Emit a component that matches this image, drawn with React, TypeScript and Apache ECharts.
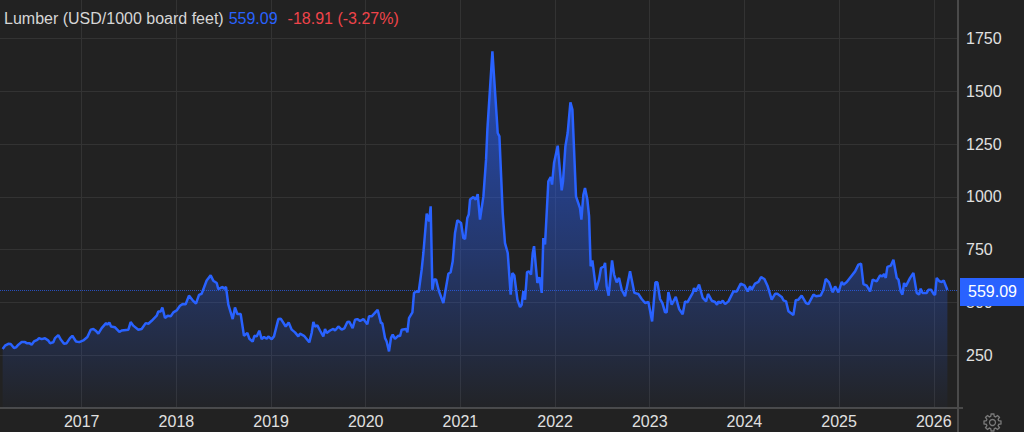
import React, { useEffect, useRef } from "react";
import * as echarts from "echarts";

const dateYears: number[] = [
2016.165,2016.19,2016.225,2016.25,2016.285,2016.306,2016.331,2016.366,2016.401,2016.419,2016.447,2016.471,2016.496,2016.531,2016.549,2016.577,2016.612,2016.648,2016.665,2016.7,2016.718,2016.753,2016.781,2016.813,2016.841,2016.876,2016.901,2016.94,2016.975,
2017.017,2017.06,2017.095,2017.123,2017.148,2017.176,2017.211,2017.257,2017.271,2017.292,2017.31,2017.352,2017.398,2017.422,2017.493,2017.517,2017.545,2017.598,2017.633,2017.676,2017.704,2017.739,2017.792,2017.809,2017.834,2017.852,2017.88,2017.908,2017.94,2017.968,
2018.003,2018.038,2018.066,2018.098,2018.133,2018.172,2018.207,2018.239,2018.267,2018.32,2018.362,2018.39,2018.426,2018.443,2018.489,2018.503,2018.524,2018.549,2018.595,2018.619,2018.644,2018.679,2018.714,2018.75,2018.771,2018.806,2018.824,2018.848,2018.876,2018.901,2018.926,2018.954,2018.971,
2019.007,2019.031,2019.077,2019.102,2019.155,2019.186,2019.218,2019.253,2019.288,2019.306,2019.348,2019.404,2019.429,2019.447,2019.464,2019.489,2019.517,2019.552,2019.57,2019.588,2019.623,2019.658,2019.676,2019.711,2019.746,2019.774,2019.806,2019.827,2019.862,2019.887,2019.911,2019.94,2019.975,
2020.017,2020.035,2020.063,2020.126,2020.161,2020.175,2020.204,2020.221,2020.246,2020.267,2020.285,2020.309,2020.345,2020.362,2020.38,2020.426,2020.44,2020.457,2020.493,2020.51,2020.545,2020.559,2020.591,2020.609,2020.644,2020.669,2020.686,2020.704,2020.721,2020.743,2020.774,2020.82,2020.873,2020.897,2020.919,2020.943,2020.968,
2021.007,2021.031,2021.049,2021.073,2021.088,2021.102,2021.137,2021.162,2021.183,2021.207,2021.243,2021.271,2021.285,2021.338,2021.383,2021.394,2021.412,2021.447,2021.471,2021.5,2021.531,2021.549,2021.57,2021.602,2021.63,2021.647,2021.665,2021.683,2021.704,2021.725,2021.746,2021.764,2021.778,2021.813,2021.834,2021.859,2021.876,2021.894,2021.929,2021.954,2021.968,2021.989,
2022.028,2022.07,2022.084,2022.109,2022.133,2022.162,2022.183,2022.221,2022.263,2022.278,2022.299,2022.316,2022.341,2022.359,2022.376,2022.394,2022.433,2022.464,2022.485,2022.517,2022.528,2022.545,2022.566,2022.602,2022.623,2022.651,2022.676,2022.704,2022.739,2022.792,2022.838,2022.88,2022.915,2022.951,2022.986,
2023.025,2023.06,2023.081,2023.109,2023.134,2023.162,2023.179,2023.197,2023.232,2023.275,2023.31,2023.348,2023.373,2023.398,2023.454,2023.468,2023.486,2023.521,2023.56,2023.595,2023.616,2023.655,2023.69,2023.711,2023.725,2023.746,2023.771,2023.796,2023.831,2023.884,2023.919,2023.961,
2024.0,2024.035,2024.06,2024.077,2024.112,2024.148,2024.176,2024.211,2024.246,2024.288,2024.324,2024.348,2024.394,2024.412,2024.44,2024.465,2024.517,2024.542,2024.57,2024.605,2024.651,2024.676,2024.729,2024.757,2024.806,2024.834,2024.859,2024.894,2024.933,2024.958,2024.993,
2025.028,2025.045,2025.081,2025.169,2025.204,2025.232,2025.257,2025.292,2025.327,2025.355,2025.397,2025.433,2025.457,2025.475,2025.493,2025.51,2025.546,2025.574,2025.609,2025.627,2025.651,2025.669,2025.686,2025.704,2025.75,2025.785,2025.82,2025.845,2025.862,2025.88,2025.926,2025.943,2025.972,
2026.003,2026.014,2026.031,2026.059,2026.084,2026.105,2026.144,
];

const lumberValues: number[] = [
279,295,304,303,284,287,300,312,312,307,307,300,315,323,331,326,330,319,307,311,331,345,323,304,307,331,342,315,312,
320,336,371,374,366,352,378,402,394,405,386,382,360,367,371,407,390,371,374,402,399,413,437,457,457,476,426,437,434,453,
462,484,492,491,532,510,494,536,541,604,628,603,592,563,573,565,573,489,421,476,445,445,342,355,328,314,342,339,366,326,336,328,339,
326,339,421,423,386,405,371,358,339,352,342,311,355,408,386,391,367,339,374,355,367,375,367,386,371,377,407,408,378,418,421,412,421,
397,434,434,465,402,402,331,315,268,332,348,327,343,340,371,374,358,426,453,545,553,548,655,734,920,884,955,560,608,608,553,497,636,643,695,829,889,
876,805,800,900,916,987,999,987,1013,892,1002,1176,1318,1689,1381,1302,1286,923,781,734,537,639,627,513,478,489,553,513,643,647,632,734,766,592,620,545,805,774,1073,1094,1058,1160,
1242,1031,1073,1239,1302,1447,1413,1002,947,892,1010,1042,987,908,671,699,560,608,663,671,687,576,532,699,632,595,616,560,529,647,545,540,516,497,502,
410,595,595,516,497,453,453,549,489,526,469,444,505,500,545,568,552,584,521,505,540,508,502,489,505,497,508,492,505,552,552,589,
581,552,576,560,589,597,620,611,576,513,541,541,526,510,505,458,440,510,513,532,497,492,537,529,533,560,611,595,548,576,548,
597,584,597,647,679,683,587,579,552,608,600,628,623,634,616,668,674,702,616,608,552,537,592,576,616,639,545,537,565,545,545,560,560,
537,537,616,600,597,604,559,
];

const yearTicks = [2017, 2018, 2019, 2020, 2021, 2022, 2023, 2024, 2025, 2026];
const priceTicks = [250, 500, 750, 1000, 1250, 1500, 1750];
const lastPrice = 559.09;

const BLUE = "#2962ff";
const FONT = "'Liberation Sans', Arial, sans-serif";
const AXIS = "#4a4a4a";
const GEAR = "#7a7a7a";

function gearPoints(cx: number, cy: number): number[][] {
  const pts: number[][] = [];
  const teeth = 8;
  for (let i = 0; i < teeth; i++) {
    const a = (i / teeth) * Math.PI * 2;
    const step = (Math.PI * 2) / teeth;
    for (const [off, r] of [[-0.36, 6.4], [-0.2, 8.6], [0.2, 8.6], [0.36, 6.4]] as number[][]) {
      const t = a + off * step;
      pts.push([cx + r * Math.cos(t), cy + r * Math.sin(t)]);
    }
  }
  return pts;
}

export default function App() {
  const ref = useRef<HTMLDivElement>(null);
  useEffect(() => {
    document.body.style.margin = "0";
    document.body.style.background = "#222222";
    const chart = echarts.init(ref.current!, undefined, { renderer: "svg" });
    const richBase = { fontSize: 16, fontWeight: "normal", fontFamily: FONT };
    chart.setOption({
      animation: false,
      backgroundColor: "#222222",
      title: {
        left: 4,
        top: 9,
        padding: 0,
        text: "{a|Lumber (USD/1000 board feet)} {b|559.09}  {c|-18.91 (-3.27%)}",
        textStyle: {
          fontWeight: "normal",
          rich: {
            a: { ...richBase, color: "#d6d6d6" },
            b: { ...richBase, color: BLUE },
            c: { ...richBase, color: "#f0444a" },
          },
        },
      },
      grid: { left: 0, top: 0, width: 958, height: 408, containLabel: false },
      xAxis: {
        type: "value",
        min: 2016.137,
        max: 2026.256,
        axisLine: { onZero: false, lineStyle: { color: AXIS, width: 2 } },
        axisTick: { show: false, customValues: yearTicks },
        axisLabel: {
          customValues: yearTicks,
          formatter: (v: number) => String(Math.round(v)),
          color: "#e0e0e0",
          fontSize: 16,
          fontFamily: FONT,
          margin: 5,
        },
        splitLine: { show: true, lineStyle: { color: "#333333", width: 1 } },
      },
      yAxis: {
        type: "value",
        position: "right",
        min: 0,
        max: 1932,
        axisLine: { show: true, onZero: false, lineStyle: { color: AXIS, width: 2 } },
        axisTick: { show: false, customValues: priceTicks },
        axisLabel: {
          customValues: priceTicks,
          formatter: (v: number) => String(v),
          color: "#e0e0e0",
          fontSize: 16,
          fontFamily: FONT,
          margin: 8,
        },
        splitLine: { show: true, lineStyle: { color: "#333333", width: 1 } },
      },
      series: [
        {
          type: "line",
          data: dateYears.map((d, i) => [d, lumberValues[i]]),
          symbol: "none",
          lineStyle: { color: BLUE, width: 2.5 },
          areaStyle: {
            color: new echarts.graphic.LinearGradient(0, 0, 0, 1, [
              { offset: 0, color: "rgba(41,98,255,0.95)" },
              { offset: 0.56, color: "rgba(41,98,255,0.48)" },
              { offset: 0.84, color: "rgba(41,98,255,0.2)" },
              { offset: 1, color: "rgba(41,98,255,0.03)" },
            ]),
          },
          markLine: {
            silent: true,
            symbol: "none",
            animation: false,
            z: 10,
            lineStyle: { color: "rgba(41,98,255,0.7)", type: "dotted", width: 1 },
            label: {
              position: "end",
              distance: 2,
              offset: [0, 2],
              formatter: () => lastPrice.toFixed(2),
              color: "#ffffff",
              backgroundColor: BLUE,
              opacity: 1,
              fontSize: 16,
              fontFamily: FONT,
              width: 56,
              height: 28,
              lineHeight: 28,
              padding: [0, 0, 0, 8],
              align: "left",
              verticalAlign: "middle",
            },
            data: [{ yAxis: lastPrice }],
          },
        },
      ],
      graphic: [
        { type: "line", silent: true, shape: { x1: 958, y1: 408, x2: 958, y2: 432 }, style: { stroke: AXIS, lineWidth: 2 } },
        { type: "line", silent: true, shape: { x1: 958, y1: 408, x2: 963, y2: 408 }, style: { stroke: AXIS, lineWidth: 2 } },
        {
          type: "polygon",
          silent: true,
          shape: { points: gearPoints(992.5, 422.5) },
          style: { fill: "none", stroke: GEAR, lineWidth: 1.3 },
        },
        {
          type: "circle",
          silent: true,
          shape: { cx: 992.5, cy: 422.5, r: 3 },
          style: { fill: "none", stroke: GEAR, lineWidth: 1.3 },
        },
      ],
    });
    return () => chart.dispose();
  }, []);
  return <div ref={ref} style={{ width: 1024, height: 432 }} />;
}
